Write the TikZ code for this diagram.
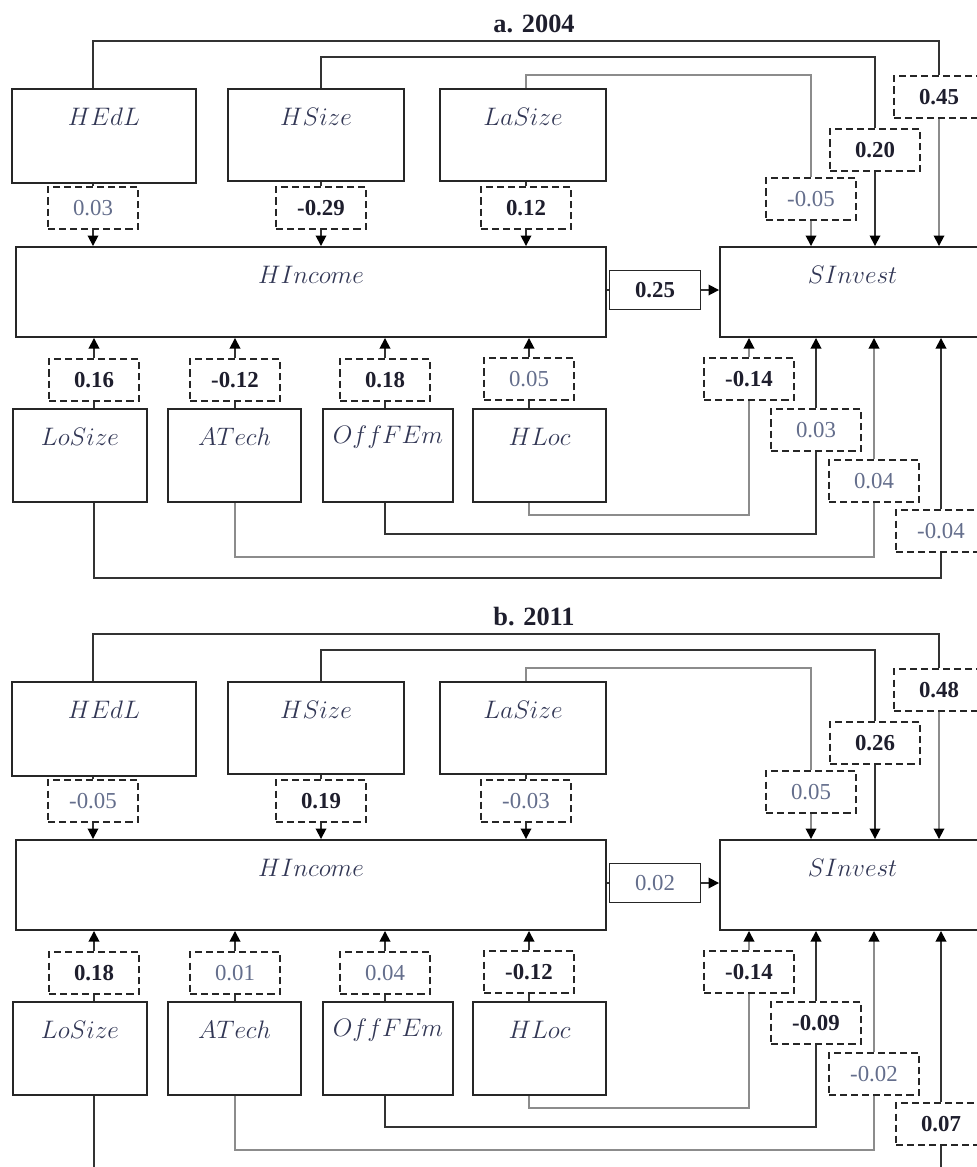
\documentclass[tikz,border=0pt]{standalone}
\usepackage{fontspec}
\setmainfont{Liberation Serif}
\usetikzlibrary{arrows.meta}

\definecolor{ink}{RGB}{30,30,45}
\definecolor{pale}{RGB}{100,110,140}
\definecolor{varcol}{RGB}{50,55,85}

\tikzset{
  dk/.style={draw=black!80, line width=1pt},
  gy/.style={draw=black!45, line width=1pt},
  vtext/.style={text=varcol, font=\fontsize{14.4}{17}\selectfont, anchor=center, yshift=-0.58cm, inner sep=0pt},
  vbox/.style={draw=black!85, line width=1.1pt, label={[vtext]north:$#1$}},
  wbox/.style={draw=black!85, line width=1.1pt, dash pattern=on 4pt off 2.3pt, fill=white,
    minimum width=1.8cm, minimum height=0.84cm, inner sep=0pt},
  sig/.style={text=ink, font=\fontsize{13}{15}\selectfont\bfseries},
  ns/.style={text=pale, font=\fontsize{13}{15}\selectfont},
  sigfull/.style={sig, solid, minimum width=1.82cm, minimum height=0.78cm},
  nsfull/.style={ns, solid, minimum width=1.82cm, minimum height=0.78cm},
  ttl/.style={text=ink, font=\fontsize{15}{17}\selectfont\bfseries},
  >={Triangle[width=6pt,length=6pt,color=black]}
}

% one panel of the path diagram, #1 = vertical offset (px), #2 = title, #3 = coefficients
\newcommand{\panel}[3]{%
  \begin{scope}[shift={(0,#1)}]
    \node[ttl] (title) at (534,24) {#2};
    % variables
    \node[vbox=HEdL, minimum width=3.68cm, minimum height=1.88cm] (hedl) at (104,136) {};
    \node[vbox=HSize, minimum width=3.52cm, minimum height=1.84cm] (hsize) at (316,135) {};
    \node[vbox=LaSize, minimum width=3.32cm, minimum height=1.84cm] (lasize) at (523,135) {};
    \node[vbox=HIncome, minimum width=11.8cm, minimum height=1.8cm] (hinc) at (311,292) {};
    \node[vbox=SInvest, minimum width=5.3cm, minimum height=1.8cm] (sinv) at (852.5,292) {};
    \node[vbox=LoSize, minimum width=2.68cm, minimum height=1.86cm] (losize) at (80,455.5) {};
    \node[vbox=ATech, minimum width=2.66cm, minimum height=1.86cm] (atech) at (234.5,455.5) {};
    \node[vbox=OffFEm, minimum width=2.6cm, minimum height=1.86cm] (offfem) at (388,455.5) {};
    \node[vbox=HLoc, minimum width=2.66cm, minimum height=1.86cm] (hloc) at (539.5,455.5) {};
    % path coefficients
    \foreach \n/\x/\y/\s/\v in {#3}
      \node[wbox,\s] (\n) at (\x,\y) {\v};
    % into HIncome
    \foreach \v in {hedl,hsize,lasize} {
      \draw[dk] (\v.south -| \v-hinc) -- (\v-hinc.north);
      \draw[dk,->] (\v-hinc.south) -- (\v-hinc.south |- hinc.north);
    }
    \foreach \v in {losize,atech,offfem,hloc} {
      \draw[dk] (\v.north -| \v-hinc) -- (\v-hinc.south);
      \draw[dk,->] (\v-hinc.north) -- (\v-hinc.north |- hinc.south);
    }
    % HIncome to SInvest
    \draw[dk] (hinc.east |- hinc-sinv) -- (hinc-sinv.west);
    \draw[dk,->] (hinc-sinv.east) -- (hinc-sinv.east -| sinv.west);
    % over the top into SInvest
    \foreach \v/\dh/\c/\d in {hedl/47/dk/gy, hsize/31/dk/dk, lasize/13/gy/gy} {
      \draw[\c] (\v.north -| \v-hinc) -- ++(0,-\dh) -| (\v-sinv.north);
      \draw[\d,->] (\v-sinv.south) -- (\v-sinv.south |- sinv.north);
    }
    % underneath into SInvest
    \foreach \v/\dh/\c in {hloc/12/gy, offfem/31/dk, atech/54/gy, losize/75/dk} {
      \draw[\c] (\v.south -| \v-hinc) -- ++(0,\dh) -| (\v-sinv.south);
      \draw[\c,->] (\v-sinv.north) -- (\v-sinv.north |- sinv.south);
    }
  \end{scope}}

\begin{document}
\begin{tikzpicture}[x=0.02cm, y=-0.02cm]
  \useasboundingbox (0,0) rectangle (977,1167);
  \clip (0,0) rectangle (977,1167);
  \panel{0}{a. 2004}{hedl-hinc/93/208/ns/0.03, hsize-hinc/321/208/sig/-0.29, lasize-hinc/526/208/sig/0.12,
    hinc-sinv/655/290/sigfull/0.25,
    hedl-sinv/939/97/sig/0.45, hsize-sinv/875/150/sig/0.20, lasize-sinv/811/199/ns/-0.05,
    losize-hinc/94/380/sig/0.16, atech-hinc/235/380/sig/-0.12, offfem-hinc/385/380/sig/0.18, hloc-hinc/529/379/ns/0.05,
    hloc-sinv/749/379/sig/-0.14, offfem-sinv/816/430/ns/0.03, atech-sinv/874/481/ns/0.04, losize-sinv/941/531/ns/-0.04}
  \panel{593}{b. 2011}{hedl-hinc/93/208/ns/-0.05, hsize-hinc/321/208/sig/0.19, lasize-hinc/526/208/ns/-0.03,
    hinc-sinv/655/290/nsfull/0.02,
    hedl-sinv/939/97/sig/0.48, hsize-sinv/875/150/sig/0.26, lasize-sinv/811/199/ns/0.05,
    losize-hinc/94/380/sig/0.18, atech-hinc/235/380/ns/0.01, offfem-hinc/385/380/ns/0.04, hloc-hinc/529/379/sig/-0.12,
    hloc-sinv/749/379/sig/-0.14, offfem-sinv/816/430/sig/-0.09, atech-sinv/874/481/ns/-0.02, losize-sinv/941/531/sig/0.07}
\end{tikzpicture}
\end{document}
